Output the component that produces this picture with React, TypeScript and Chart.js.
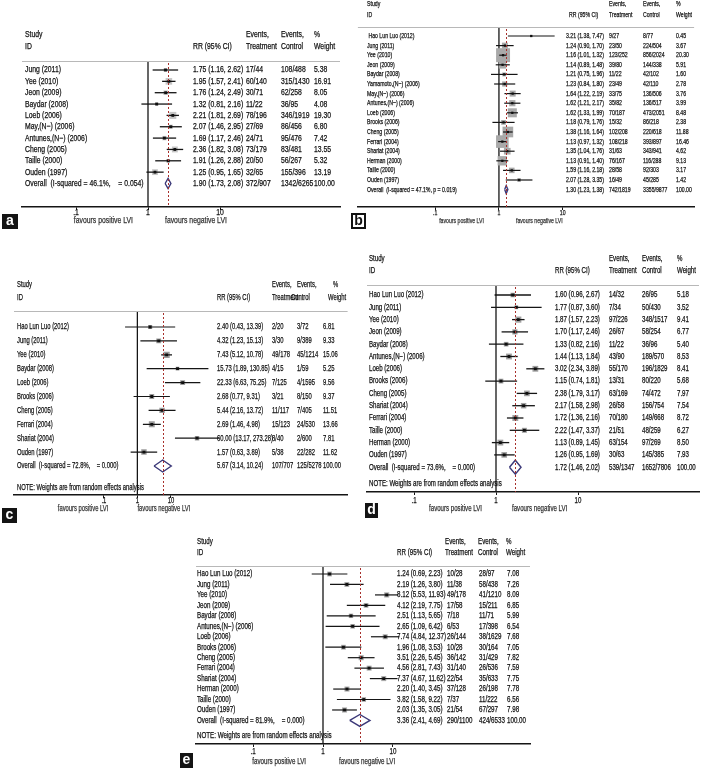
import React, { useEffect, useRef } from 'react';
import { Chart, registerables } from 'chart.js';

Chart.register(...registerables);

// ---------------- Panel a ----------------
const studiesA = ['Jung (2011)', 'Yee (2010)', 'Jeon (2009)', 'Baydar (2008)', 'Loeb (2006)', 'May,(N\u2212) (2006)', 'Antunes,(N\u2212) (2006)', 'Cheng (2005)', 'Taille (2000)', 'Ouden (1997)'];
const rrA = [1.75, 1.95, 1.76, 1.32, 2.21, 2.07, 1.69, 2.36, 1.91, 1.25];
const loA = [1.16, 1.57, 1.24, 0.81, 1.81, 1.46, 1.17, 1.82, 1.26, 0.95];
const hiA = [2.62, 2.41, 2.49, 2.16, 2.69, 2.95, 2.46, 3.08, 2.88, 1.65];
const trtA = ['17/44', '60/140', '30/71', '11/22', '78/196', '27/69', '24/71', '73/179', '20/50', '32/65'];
const ctlA = ['108/488', '315/1430', '62/258', '36/95', '346/1919', '86/456', '95/476', '83/481', '56/267', '155/396'];
const wtA = [5.38, 16.91, 8.05, 4.08, 19.3, 6.8, 7.42, 13.55, 5.32, 13.19];
const overallA = [1.9, 1.73, 2.08];
const overallTextA = ['Overall  (I-squared = 46.1%,    = 0.054)', '372/907', '1342/6265', '100.00'];

// ---------------- Panel b ----------------
const studiesB = [' Hao Lun Luo (2012)', 'Jung (2011)', 'Yee (2010)', 'Jeon (2009)', 'Baydar (2008)', 'Yamamoto,(N\u2212) (2006)', 'May,(N\u2212) (2006)', 'Antunes,(N\u2212) (2006)', 'Loeb (2006)', 'Brooks (2006)', 'Cheng (2005)', 'Ferrari (2004)', 'Shariat (2004)', 'Herman (2000)', 'Taille (2000)', 'Ouden (1997)'];
const rrB = [3.21, 1.24, 1.16, 1.14, 1.21, 1.23, 1.64, 1.62, 1.62, 1.18, 1.38, 1.13, 1.35, 1.13, 1.59, 2.07];
const loB = [1.38, 0.9, 1.01, 0.89, 0.75, 0.84, 1.22, 1.21, 1.33, 0.79, 1.16, 0.97, 1.04, 0.91, 1.16, 1.28];
const hiB = [7.47, 1.7, 1.32, 1.48, 1.96, 1.8, 2.19, 2.17, 1.99, 1.76, 1.64, 1.32, 1.76, 1.4, 2.18, 3.35];
const trtB = ['9/27', '23/50', '123/252', '39/80', '11/22', '23/49', '33/75', '35/82', '70/187', '15/32', '102/208', '108/218', '31/63', '76/167', '28/58', '16/49'];
const ctlB = ['8/77', '224/504', '856/2024', '144/338', '42/102', '42/110', '136/506', '136/517', '473/2051', '86/218', '220/618', '393/897', '343/941', '116/288', '92/303', '45/285'];
const wtB = [0.45, 3.67, 20.3, 5.91, 1.6, 2.78, 3.76, 3.99, 8.48, 2.38, 11.88, 16.46, 4.62, 9.13, 3.17, 1.42];
const overallB = [1.3, 1.23, 1.38];
const overallTextB = ['Overall  (I-squared = 47.1%, p = 0.019)', '742/1819', '3355/9877', '100.00'];

// ---------------- Panel c ----------------
const studiesC = ['Hao Lun Luo (2012)', 'Jung (2011)', 'Yee (2010)', 'Baydar (2008)', 'Loeb (2006)', 'Brooks (2006)', 'Cheng (2005)', 'Ferrari (2004)', 'Shariat (2004)', 'Ouden (1997)'];
const rrC = [2.4, 4.32, 7.43, 15.73, 22.33, 2.68, 5.44, 2.69, 60.0, 1.57];
const loC = [0.43, 1.23, 5.12, 1.89, 6.63, 0.77, 2.16, 1.46, 13.17, 0.63];
const hiC = [13.39, 15.13, 10.78, 130.85, 75.25, 9.31, 13.72, 4.98, 273.28, 3.89];
const trtC = ['2/20', '3/30', '49/178', '4/15', '7/125', '3/21', '11/117', '15/123', '8/40', '5/38'];
const ctlC = ['3/72', '9/389', '45/1214', '1/59', '4/1595', '8/150', '7/405', '24/530', '2/600', '22/282'];
const wtC = [6.81, 9.33, 15.06, 5.25, 9.56, 9.37, 11.51, 13.66, 7.81, 11.62];
const overallC = [5.67, 3.14, 10.24];
const overallTextC = ['Overall  (I-squared = 72.8%,    = 0.000)', '107/707', '125/5278', '100.00'];

// ---------------- Panel d ----------------
const studiesD = ['Hao Lun Luo (2012)', 'Jung (2011)', 'Yee (2010)', 'Jeon (2009)', 'Baydar (2008)', 'Antunes,(N\u2212) (2006)', 'Loeb (2006)', 'Brooks (2006)', 'Cheng (2005)', 'Shariat (2004)', 'Ferrari (2004)', 'Taille (2000)', 'Herman (2000)', 'Ouden (1997)'];
const rrD = [1.6, 1.77, 1.87, 1.7, 1.33, 1.44, 3.02, 1.15, 2.38, 2.17, 1.72, 2.22, 1.13, 1.26];
const loD = [0.96, 0.87, 1.57, 1.17, 0.82, 1.13, 2.34, 0.74, 1.79, 1.58, 1.36, 1.47, 0.89, 0.95];
const hiD = [2.67, 3.6, 2.23, 2.46, 2.16, 1.84, 3.89, 1.81, 3.17, 2.98, 2.16, 3.37, 1.45, 1.69];
const trtD = ['14/32', '7/34', '97/226', '26/67', '11/22', '43/90', '55/170', '13/31', '63/169', '26/58', '70/180', '21/51', '63/154', '30/63'];
const ctlD = ['26/95', '50/430', '348/1517', '58/254', '36/96', '189/570', '196/1829', '80/220', '74/472', '156/754', '149/668', '48/259', '97/269', '145/385'];
const wtD = [5.18, 3.52, 9.41, 6.77, 5.4, 8.53, 8.41, 5.68, 7.97, 7.54, 8.72, 6.27, 8.5, 7.93];
const overallD = [1.72, 1.46, 2.02];
const overallTextD = ['Overall  (I-squared = 73.6%,    = 0.000)', '539/1347', '1652/7806', '100.00'];

// ---------------- Panel e ----------------
const studiesE = ['Hao Lun Luo (2012)', 'Jung (2011)', 'Yee (2010)', 'Jeon (2009)', 'Baydar (2008)', 'Antunes,(N\u2212) (2006)', 'Loeb (2006)', 'Brooks (2006)', 'Cheng (2005)', 'Ferrari (2004)', 'Shariat (2004)', 'Herman (2000)', 'Taille (2000)', 'Ouden (1997)'];
const rrE = [1.24, 2.19, 8.12, 4.12, 2.51, 2.65, 7.74, 1.96, 3.51, 4.56, 7.37, 2.2, 3.82, 2.03];
const loE = [0.69, 1.26, 5.53, 2.19, 1.13, 1.09, 4.84, 1.08, 2.26, 2.81, 4.67, 1.4, 1.58, 1.35];
const hiE = [2.23, 3.8, 11.93, 7.75, 5.65, 6.42, 12.37, 3.53, 5.45, 7.43, 11.62, 3.45, 9.22, 3.05];
const trtE = ['10/28', '11/38', '49/178', '17/58', '7/18', '6/53', '26/144', '10/28', '36/142', '31/140', '22/54', '37/128', '7/37', '21/54'];
const ctlE = ['28/97', '58/438', '41/1210', '15/211', '11/71', '17/398', '38/1629', '30/164', '31/429', '26/536', '35/633', '26/198', '11/222', '67/297'];
const wtE = [7.08, 7.26, 8.09, 6.85, 5.99, 6.54, 7.68, 7.05, 7.82, 7.59, 7.75, 7.78, 6.56, 7.98];
const overallE = [3.36, 2.41, 4.69];
const overallTextE = ['Overall  (I-squared = 81.9%,    = 0.000)', '290/1100', '424/6533', '100.00'];

const axisTicks = [0.1, 1, 10];
const axisTickLabels = ['.1', '1', '10'];
const favourLeft = 'favours positive LVI';
const favourRight = 'favours negative LVI';
const noteText = 'NOTE: Weights are from random effects analysis';

// ---------------- layout (positions, sizes, styles) ----------------
type Layout = {
  label: string; left: number; top: number; width: number; height: number;
  plotLeft: number; plotRight: number; headY: number; row0: number; step: number; axisY: number;
  x1: number; decade: number; head1Y: number; head2Y: number;
  headTop: number[]; headBot: number[]; cols: number[];
  tickY: number; favY: number; favL: number; favR: number; font: number; sx: number;
  boxK: number; boxColor: string; dot: number; lineW: number; diaH: number; noteY: number | null;
  lbl: number[]; lblOutline: boolean;
};

const layoutA: Layout = {
  label: 'a', left: 0, top: 0, width: 348, height: 240,
  plotLeft: 22, plotRight: 340, headY: 61, row0: 70, step: 11.35, axisY: 207,
  x1: 148, decade: 72, head1Y: 35, head2Y: 47,
  headTop: [25, 0, 246, 281, 314], headBot: [25, 193, 246, 281, 314], cols: [25, 193, 246, 281, 314],
  tickY: 213, favY: 221, favL: 15, favR: 17, font: 9, sx: 0.76,
  boxK: 1.6, boxColor: '#c6c6c6', dot: 2.0, lineW: 1.3, diaH: 5, noteY: null,
  lbl: [2, 214, 16, 15], lblOutline: false,
};
const layoutB: Layout = {
  label: 'b', left: 348, top: 0, width: 356, height: 240,
  plotLeft: 354, plotRight: 702, headY: 27, row0: 36, step: 9.6, axisY: 207,
  x1: 500, decade: 66, head1Y: 4, head2Y: 15,
  headTop: [367, 0, 609, 643, 676], headBot: [367, 569, 609, 643, 676], cols: [367, 566, 609, 643, 676],
  tickY: 213, favY: 221, favL: 15, favR: 17, font: 7.5, sx: 0.69,
  boxK: 3.1, boxColor: '#a9a9a9', dot: 1.6, lineW: 1.2, diaH: 4, noteY: null,
  lbl: [351, 213, 15, 16], lblOutline: true,
};
const layoutC: Layout = {
  label: 'c', left: 0, top: 270, width: 352, height: 256,
  plotLeft: 14, plotRight: 352, headY: 311, row0: 327, step: 13.9, axisY: 495,
  x1: 139, decade: 34, head1Y: 285, head2Y: 298,
  headTop: [17, 0, 272, 297, 333], headBot: [17, 217, 272, 291, 328], cols: [17, 217, 272, 297, 323],
  tickY: 501, favY: 509, favL: 29, favR: 0, font: 9, sx: 0.65,
  boxK: 1.6, boxColor: '#9c9c9c', dot: 2.0, lineW: 1.2, diaH: 6, noteY: 488,
  lbl: [2, 508, 15, 15], lblOutline: false,
};
const layoutD: Layout = {
  label: 'd', left: 352, top: 252, width: 352, height: 274,
  plotLeft: 367, plotRight: 699, headY: 285, row0: 295, step: 12.3, axisY: 492,
  x1: 496, decade: 82, head1Y: 259, head2Y: 271,
  headTop: [369, 0, 609, 642, 677], headBot: [369, 555, 609, 642, 677], cols: [369, 555, 609, 642, 677],
  tickY: 501, favY: 509, favL: 14, favR: 16, font: 8.5, sx: 0.72,
  boxK: 2.0, boxColor: '#a0a0a0', dot: 2.0, lineW: 1.3, diaH: 7, noteY: 484,
  lbl: [365, 503, 13, 15], lblOutline: false,
};
const layoutE: Layout = {
  label: 'e', left: 178, top: 530, width: 362, height: 240,
  plotLeft: 196, plotRight: 530, headY: 566, row0: 574, step: 10.46, axisY: 744,
  x1: 323, decade: 70, head1Y: 542, head2Y: 553,
  headTop: [197, 0, 445, 478, 506], headBot: [197, 397, 445, 478, 506], cols: [197, 397, 447, 479, 507],
  tickY: 752, favY: 762, favL: 17, favR: 16, font: 8.5, sx: 0.73,
  boxK: 1.8, boxColor: '#a8a8a8', dot: 2.0, lineW: 1.2, diaH: 6, noteY: 736,
  lbl: [180, 753, 13, 15], lblOutline: false,
};

type Panel = {
  studies: string[]; rr: number[]; lo: number[]; hi: number[];
  trt: string[]; ctl: string[]; wt: number[]; ov: number[]; ovText: string[]; L: Layout;
};

const panels: Panel[] = [
  { studies: studiesA, rr: rrA, lo: loA, hi: hiA, trt: trtA, ctl: ctlA, wt: wtA, ov: overallA, ovText: overallTextA, L: layoutA },
  { studies: studiesB, rr: rrB, lo: loB, hi: hiB, trt: trtB, ctl: ctlB, wt: wtB, ov: overallB, ovText: overallTextB, L: layoutB },
  { studies: studiesC, rr: rrC, lo: loC, hi: hiC, trt: trtC, ctl: ctlC, wt: wtC, ov: overallC, ovText: overallTextC, L: layoutC },
  { studies: studiesD, rr: rrD, lo: loD, hi: hiD, trt: trtD, ctl: ctlD, wt: wtD, ov: overallD, ovText: overallTextD, L: layoutD },
  { studies: studiesE, rr: rrE, lo: loE, hi: hiE, trt: trtE, ctl: ctlE, wt: wtE, ov: overallE, ovText: overallTextE, L: layoutE },
];

// ---------------- text helper ----------------
const FAMILY = '"Liberation Sans", Arial, Helvetica, sans-serif';
function txt(ctx: CanvasRenderingContext2D, s: string, x: number, y: number, size: number, sx: number, align: CanvasTextAlign = 'left', color = '#111') {
  ctx.save();
  ctx.font = `${size}px ${FAMILY}`;
  ctx.fillStyle = color;
  ctx.strokeStyle = color;
  ctx.lineWidth = 0.25;
  ctx.textBaseline = 'middle';
  ctx.textAlign = align;
  ctx.translate(x, y);
  ctx.scale(sx, 1);
  ctx.fillText(s, 0, 0);
  ctx.strokeText(s, 0, 0);
  ctx.restore();
}
const f2 = (v: number) => v.toFixed(2);

function ForestPanel({ p }: { p: Panel }) {
  const ref = useRef<HTMLCanvasElement>(null);
  useEffect(() => {
    const canvas = ref.current;
    if (!canvas) return;
    const L = p.L;
    const n = p.studies.length;
    const AXH = 4;
    const yMin = -(L.row0 - L.headY) / L.step;
    const yMax = (L.axisY - L.row0) / L.step;
    const xMin = Math.pow(10, -(L.x1 - L.plotLeft) / L.decade);
    const xMax = Math.pow(10, (L.plotRight - L.x1) / L.decade);
    const oi = n;
    const dh = L.diaH / L.step;

    const datasets: any[] = [];
    datasets.push({
      data: p.rr.map((v, i) => ({ x: v, y: i })),
      pointStyle: 'rect',
      pointRadius: p.wt.map((w) => (L.boxK * Math.sqrt(w)) / Math.SQRT2),
      backgroundColor: L.boxColor, borderWidth: 0, showLine: false, order: 4,
    });
    p.lo.forEach((lo, i) => {
      datasets.push({
        data: [{ x: lo, y: i }, { x: p.hi[i], y: i }],
        showLine: true, borderColor: '#151515', borderWidth: L.lineW, pointRadius: 0, order: 3,
      });
    });
    datasets.push({
      data: p.rr.map((v, i) => ({ x: v, y: i })),
      pointStyle: 'rect', pointRadius: L.dot, backgroundColor: '#101010', borderWidth: 0, showLine: false, order: 2,
    });
    datasets.push({
      data: [
        { x: p.ov[1], y: oi }, { x: p.ov[0], y: oi - dh }, { x: p.ov[2], y: oi },
        { x: p.ov[0], y: oi + dh }, { x: p.ov[1], y: oi },
      ],
      showLine: true, borderColor: '#3b3878', borderWidth: 1.4, borderJoinStyle: 'miter',
      pointRadius: 0, order: 1, tension: 0, fill: false,
    });

    const deco = {
      id: 'deco' + L.label,
      beforeDatasetsDraw(chart: any) {
        const { ctx, chartArea: ca, scales } = chart;
        const x = scales.x;
        ctx.save();
        ctx.strokeStyle = '#b8b8b8';
        ctx.lineWidth = 1;
        ctx.beginPath();
        ctx.moveTo(ca.left, Math.round(ca.top) + 0.5);
        ctx.lineTo(ca.right, Math.round(ca.top) + 0.5);
        ctx.stroke();
        const p1 = x.getPixelForValue(1);
        ctx.strokeStyle = '#151515';
        ctx.lineWidth = 1.3;
        ctx.beginPath();
        ctx.moveTo(p1, ca.top + 1);
        ctx.lineTo(p1, ca.bottom);
        ctx.stroke();
        ctx.restore();
      },
      afterDatasetsDraw(chart: any) {
        const { ctx, chartArea: ca, scales } = chart;
        const x = scales.x;
        const y = scales.y;
        const ox = L.left;
        const oy = L.top;
        const po = x.getPixelForValue(p.ov[0]);
        ctx.save();
        ctx.strokeStyle = '#a8302c';
        ctx.lineWidth = 1;
        ctx.setLineDash([2, 2]);
        ctx.beginPath();
        ctx.moveTo(Math.round(po) + 0.5, ca.top + 2);
        ctx.lineTo(Math.round(po) + 0.5, ca.bottom);
        ctx.stroke();
        ctx.restore();

        const fs = L.font;
        const sx = L.sx;
        txt(ctx, 'Study', L.headTop[0] - ox, L.head1Y - oy, fs, sx);
        txt(ctx, 'ID', L.headBot[0] - ox, L.head2Y - oy, fs, sx);
        txt(ctx, 'RR (95% CI)', L.headBot[1] - ox, L.head2Y - oy, fs, sx);
        txt(ctx, 'Events,', L.headTop[2] - ox, L.head1Y - oy, fs, sx);
        txt(ctx, 'Treatment', L.headBot[2] - ox, L.head2Y - oy, fs, sx);
        txt(ctx, 'Events,', L.headTop[3] - ox, L.head1Y - oy, fs, sx);
        txt(ctx, 'Control', L.headBot[3] - ox, L.head2Y - oy, fs, sx);
        txt(ctx, '%', L.headTop[4] - ox, L.head1Y - oy, fs, sx);
        txt(ctx, 'Weight', L.headBot[4] - ox, L.head2Y - oy, fs, sx);

        for (let i = 0; i < n; i++) {
          const py = y.getPixelForValue(i);
          txt(ctx, p.studies[i], L.cols[0] - ox, py, fs, sx);
          txt(ctx, `${f2(p.rr[i])} (${f2(p.lo[i])}, ${f2(p.hi[i])})`, L.cols[1] - ox, py, fs, sx);
          txt(ctx, p.trt[i], L.cols[2] - ox, py, fs, sx);
          txt(ctx, p.ctl[i], L.cols[3] - ox, py, fs, sx);
          txt(ctx, f2(p.wt[i]), L.cols[4] - ox, py, fs, sx);
        }
        const pyo = y.getPixelForValue(oi);
        txt(ctx, p.ovText[0], L.cols[0] - ox, pyo, fs, sx);
        txt(ctx, `${f2(p.ov[0])} (${f2(p.ov[1])}, ${f2(p.ov[2])})`, L.cols[1] - ox, pyo, fs, sx);
        txt(ctx, p.ovText[1], L.cols[2] - ox, pyo, fs, sx);
        txt(ctx, p.ovText[2], L.cols[3] - ox, pyo, fs, sx);
        txt(ctx, p.ovText[3], L.cols[4] - ox, pyo, fs, sx);
        if (L.noteY !== null) txt(ctx, noteText, L.cols[0] - ox, L.noteY - oy, fs, sx);
      },
      afterDraw(chart: any) {
        const { ctx, scales } = chart;
        const x = scales.x;
        const ox = L.left;
        const oy = L.top;
        const fs = L.font;
        axisTicks.forEach((v, k) => {
          txt(ctx, axisTickLabels[k], x.getPixelForValue(v), L.tickY - oy, fs, L.sx, 'center');
        });
        const p1 = x.getPixelForValue(1);
        txt(ctx, favourLeft, p1 - L.favL, L.favY - oy, fs, L.sx, 'right', '#333');
        txt(ctx, favourRight, p1 + L.favR, L.favY - oy, fs, L.sx, 'left', '#333');
        const [bx, by, bw, bh] = L.lbl;
        ctx.save();
        if (L.lblOutline) {
          ctx.fillStyle = '#fff';
          ctx.fillRect(bx - ox, by - oy, bw, bh);
          ctx.strokeStyle = '#111';
          ctx.lineWidth = 2;
          ctx.strokeRect(bx - ox + 1, by - oy + 1, bw - 2, bh - 2);
          ctx.fillStyle = '#111';
        } else {
          ctx.fillStyle = '#141414';
          ctx.fillRect(bx - ox, by - oy, bw, bh);
          ctx.fillStyle = '#fff';
        }
        ctx.font = 'bold 14px "Liberation Sans", Arial, sans-serif';
        ctx.textAlign = 'center';
        ctx.textBaseline = 'middle';
        ctx.fillText(L.label, bx - ox + bw / 2, by - oy + bh / 2);
        ctx.restore();
      },
    };

    const chart = new Chart(canvas, {
      type: 'scatter',
      data: { datasets },
      options: {
        animation: false,
        responsive: false,
        devicePixelRatio: 1,
        events: [],
        layout: {
          padding: {
            left: L.plotLeft - L.left,
            right: L.left + L.width - L.plotRight,
            top: L.headY - L.top,
            bottom: L.top + L.height - L.axisY - AXH,
          },
        },
        plugins: { legend: { display: false }, tooltip: { enabled: false }, title: { display: false } },
        scales: {
          x: {
            type: 'logarithmic',
            position: 'bottom',
            min: xMin,
            max: xMax,
            bounds: 'data',
            afterBuildTicks: (s: any) => { s.ticks = axisTicks.map((v) => ({ value: v })); },
            afterFit: (s: any) => { s.height = AXH; },
            ticks: { display: false },
            grid: { display: true, drawOnChartArea: false, drawTicks: true, tickLength: 3, color: '#151515', lineWidth: 1 },
            border: { display: true, color: '#151515', width: 1.4 },
          },
          y: {
            type: 'linear',
            reverse: true,
            min: yMin,
            max: yMax,
            bounds: 'data',
            display: false,
          },
        },
      } as any,
      plugins: [deco],
    });
    return () => chart.destroy();
  }, [p]);
  const L = p.L;
  return (
    <canvas
      ref={ref}
      width={L.width}
      height={L.height}
      style={{ position: 'absolute', left: L.left, top: L.top, width: L.width, height: L.height }}
    />
  );
}

export default function App() {
  return (
    <div style={{ position: 'absolute', left: 0, top: 0, width: 704, height: 770, background: '#fff', overflow: 'hidden' }}>
      {panels.map((p) => (
        <ForestPanel key={p.L.label} p={p} />
      ))}
    </div>
  );
}
